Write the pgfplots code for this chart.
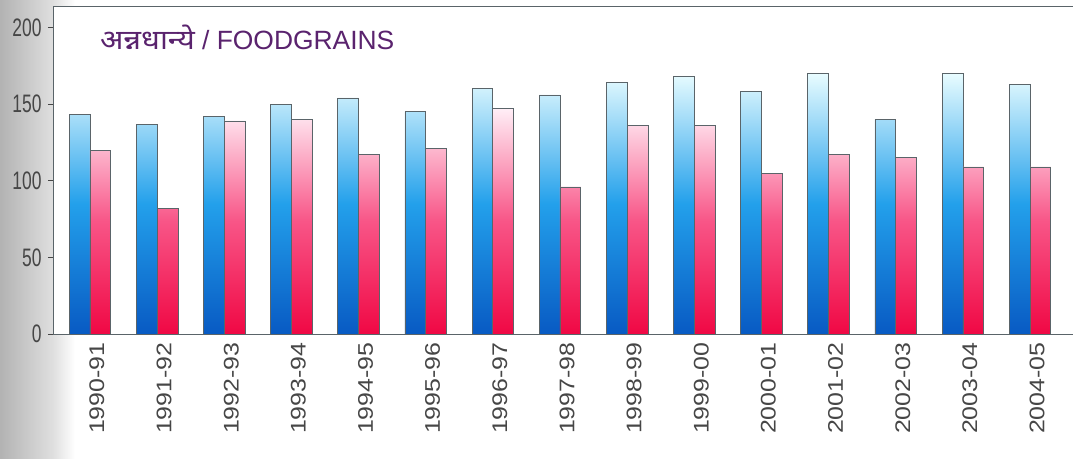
\documentclass[border=0pt]{standalone}
\usepackage{fontspec}
\setmainfont{Liberation Sans}
\newfontfamily\devfont[Script=Devanagari]{Noto Sans}
\usepackage{graphicx}
\usepackage{pgfplots}
\usepackage{pgfplotstable}
\pgfplotsset{compat=1.18}
\definecolor{tickgray}{RGB}{70,70,70}
\definecolor{titlepurple}{RGB}{90,35,110}
\definecolor{bdark}{RGB}{8,90,195}
\definecolor{bmid}{RGB}{35,160,235}
\definecolor{btop}{RGB}{232,252,255}
\definecolor{rdark}{RGB}{240,8,68}
\definecolor{rmid}{RGB}{248,85,135}
\definecolor{rtop}{RGB}{255,238,246}
\definecolor{edge}{RGB}{90,100,105}
\newcommand{\xl}[1]{\scalebox{1}[0.85]{#1}}
\pgfplotstableread{
x blue red
0 143 120
1 137 82
2 142 139
3 150 140
4 154 117
5 145 121
6 160 147
7 156 96
8 164 136
9 168 136
10 158 105
11 170 117
12 140 115
13 170 109
14 163 109
}\data
\begin{document}
\begin{tikzpicture}
\path[use as bounding box] (-53bp,-125bp) rectangle (1020bp,334bp);
\shade[left color=gray!60, right color=gray!25] (-53bp,-125bp) rectangle (0bp,334bp);
\shade[left color=gray!25, right color=white] (0bp,-125bp) rectangle (22bp,334bp);
\begin{axis}[
  scale only axis,
  width=1022bp, height=328bp,
  xmin=-0.55, xmax=14.67,
  ymin=0, ymax=214,
  ytick={0,50,100,150,200},
  xtick={0,...,14},
  xticklabels={\xl{1990-91},\xl{1991-92},\xl{1992-93},\xl{1993-94},\xl{1994-95},\xl{1995-96},\xl{1996-97},\xl{1997-98},\xl{1998-99},\xl{1999-00},\xl{2000-01},\xl{2001-02},\xl{2002-03},\xl{2003-04},\xl{2004-05}},
  x tick style={draw=none},
  y tick style={draw=tickgray, line width=0.6pt},
  tick align=outside,
  major tick length=5bp,
  axis line style={draw=edge, line width=0.8pt},
  axis background/.style={fill=white},
  /pgf/number format/assume math mode=true,
  yticklabel={\scalebox{1}[1.45]{\pgfmathprintnumber{\tick}}},
  yticklabel style={font=\fontsize{17.5}{20}\selectfont, text=tickgray, xshift=-3bp},
  xticklabel style={font=\fontsize{25}{28}\selectfont, text=tickgray, rotate=90, anchor=east, yshift=-7bp},
]
\addplot[ybar, bar width=0.31, bar shift=-0.155, draw=edge, line width=0.7pt,
  bottom color=bdark, top color=btop, middle color=bmid] table[x=x, y=blue] {\data};
\addplot[ybar, bar width=0.31, bar shift=0.155, draw=edge, line width=0.7pt,
  bottom color=rdark, top color=rtop, middle color=rmid] table[x=x, y=red] {\data};
\node[anchor=west, text=titlepurple, font=\fontsize{26.5}{29}\selectfont, inner sep=0pt] at (rel axis cs:0.046,0.905) {{\devfont\fontsize{27.5}{30}\selectfont\scalebox{1.12}[1]{अन्नधान्ये}} / FOODGRAINS};
\end{axis}
\end{tikzpicture}
\end{document}
